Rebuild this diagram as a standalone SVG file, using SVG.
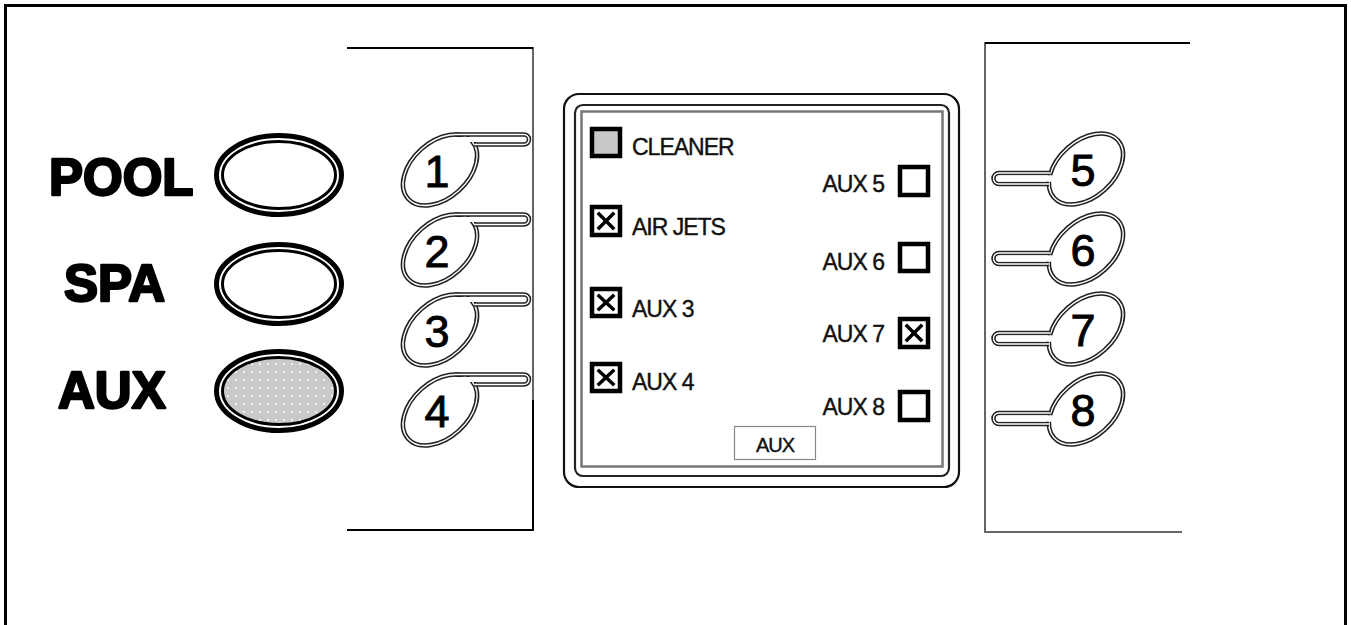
<svg xmlns="http://www.w3.org/2000/svg" width="1351" height="625" viewBox="0 0 1351 625">
<style>
.big{font-family:"Liberation Sans",Arial,sans-serif;font-weight:bold;font-size:51px;fill:#000;stroke:#000;stroke-width:2.4;stroke-linejoin:round}
.num{font-family:"Liberation Sans",Arial,sans-serif;font-size:45px;fill:#000;stroke:#000;stroke-width:0.9;text-anchor:middle}
.lbl{font-family:"Liberation Sans",Arial,sans-serif;font-size:23px;letter-spacing:-1px;fill:#111;stroke:#111;stroke-width:0.4}
.r{text-anchor:end}
.btnO{fill:none;stroke:#000;stroke-width:5}
.btnI{fill:none;stroke:#000;stroke-width:3}
.bo{fill:none;stroke:#222;stroke-width:4.5}
.bi{fill:none;stroke:#fff;stroke-width:1.4}
.bfill{fill:#fff;stroke:none}
.box{fill:#fff;stroke:#000;stroke-width:4.5}
.x{stroke:#000;stroke-width:3.5;stroke-linecap:square}
.brk{fill:none;stroke:#666;stroke-width:2}
</style>
<defs>
<pattern id="dots" width="8" height="8" patternUnits="userSpaceOnUse">
<rect width="8" height="8" fill="#c9c9c9"/>
<circle cx="4" cy="4" r="1" fill="#fff"/>
</pattern>
<ellipse id="bell" rx="43" ry="28" transform="rotate(-42)"/>
</defs>

<path d="M5.5,625 V5.5 H1345.5 V625" fill="none" stroke="#000" stroke-width="3"/>

<g id="connectors">
<path class="brk" d="M347,48 H533 V530 H347"/>
<path d="M347,48 H533 M533,400 V530 H347" fill="none" stroke="#000" stroke-width="2"/>
<path class="brk" d="M1190,43 H985 V532 H1182"/>
<path d="M1190,43 H985" fill="none" stroke="#000" stroke-width="2"/>
</g>

<g id="pool">
<text class="big" x="49" y="195">POOL</text>
<ellipse class="btnO" cx="279" cy="175" rx="62.5" ry="39.5"/>
<ellipse class="btnI" cx="279" cy="175" rx="56.5" ry="33.5"/>
</g>
<g id="spa">
<text class="big" x="64" y="301">SPA</text>
<ellipse class="btnO" cx="279" cy="284" rx="62.5" ry="39.5"/>
<ellipse class="btnI" cx="279" cy="284" rx="56.5" ry="33.5"/>
</g>
<g id="aux">
<text class="big" x="58" y="408">AUX</text>
<ellipse cx="279" cy="391" rx="57" ry="34" fill="url(#dots)"/>
<ellipse class="btnO" cx="279" cy="391" rx="62.5" ry="39.5"/>
<ellipse class="btnI" cx="279" cy="391" rx="56.5" ry="33.5"/>
</g>

<g id="b1" transform="translate(440,170)">
<use href="#bell" class="bfill"/><use href="#bell" class="bo"/><use href="#bell" class="bi"/>
<path class="bo" d="M14.9,-35.5 H84 A5,5 0 0 1 84,-25.5 H34.3"/>
<path class="bi" d="M14.9,-35.5 H84 A5,5 0 0 1 84,-25.5 H34.3"/>
<rect class="bfill" x="15" y="-33" width="70" height="5"/>
<text class="num" x="-3" y="17">1</text>
</g>
<g id="b2" transform="translate(440,250)">
<use href="#bell" class="bfill"/><use href="#bell" class="bo"/><use href="#bell" class="bi"/>
<path class="bo" d="M14.9,-35.5 H84 A5,5 0 0 1 84,-25.5 H34.3"/>
<path class="bi" d="M14.9,-35.5 H84 A5,5 0 0 1 84,-25.5 H34.3"/>
<rect class="bfill" x="15" y="-33" width="70" height="5"/>
<text class="num" x="-3" y="17">2</text>
</g>
<g id="b3" transform="translate(440,330)">
<use href="#bell" class="bfill"/><use href="#bell" class="bo"/><use href="#bell" class="bi"/>
<path class="bo" d="M14.9,-35.5 H84 A5,5 0 0 1 84,-25.5 H34.3"/>
<path class="bi" d="M14.9,-35.5 H84 A5,5 0 0 1 84,-25.5 H34.3"/>
<rect class="bfill" x="15" y="-33" width="70" height="5"/>
<text class="num" x="-3" y="17">3</text>
</g>
<g id="b4" transform="translate(440,410)">
<use href="#bell" class="bfill"/><use href="#bell" class="bo"/><use href="#bell" class="bi"/>
<path class="bo" d="M14.9,-35.5 H84 A5,5 0 0 1 84,-25.5 H34.3"/>
<path class="bi" d="M14.9,-35.5 H84 A5,5 0 0 1 84,-25.5 H34.3"/>
<rect class="bfill" x="15" y="-33" width="70" height="5"/>
<text class="num" x="-3" y="17">4</text>
</g>

<g id="b5" transform="translate(1086,169)">
<use href="#bell" class="bfill"/><use href="#bell" class="bo"/><use href="#bell" class="bi"/>
<path class="bo" d="M-35.3,4 H-87 A5.5,5.5 0 0 0 -87,15 H-37"/>
<path class="bi" d="M-35.3,4 H-87 A5.5,5.5 0 0 0 -87,15 H-37"/>
<rect class="bfill" x="-88" y="6.4" width="55" height="6.2"/>
<text class="num" x="-3" y="17">5</text>
</g>
<g id="b6" transform="translate(1086,249)">
<use href="#bell" class="bfill"/><use href="#bell" class="bo"/><use href="#bell" class="bi"/>
<path class="bo" d="M-35.3,4 H-87 A5.5,5.5 0 0 0 -87,15 H-37"/>
<path class="bi" d="M-35.3,4 H-87 A5.5,5.5 0 0 0 -87,15 H-37"/>
<rect class="bfill" x="-88" y="6.4" width="55" height="6.2"/>
<text class="num" x="-3" y="17">6</text>
</g>
<g id="b7" transform="translate(1086,329)">
<use href="#bell" class="bfill"/><use href="#bell" class="bo"/><use href="#bell" class="bi"/>
<path class="bo" d="M-35.3,4 H-87 A5.5,5.5 0 0 0 -87,15 H-37"/>
<path class="bi" d="M-35.3,4 H-87 A5.5,5.5 0 0 0 -87,15 H-37"/>
<rect class="bfill" x="-88" y="6.4" width="55" height="6.2"/>
<text class="num" x="-3" y="17">7</text>
</g>
<g id="b8" transform="translate(1086,409)">
<use href="#bell" class="bfill"/><use href="#bell" class="bo"/><use href="#bell" class="bi"/>
<path class="bo" d="M-35.3,4 H-87 A5.5,5.5 0 0 0 -87,15 H-37"/>
<path class="bi" d="M-35.3,4 H-87 A5.5,5.5 0 0 0 -87,15 H-37"/>
<rect class="bfill" x="-88" y="6.4" width="55" height="6.2"/>
<text class="num" x="-3" y="17">8</text>
</g>

<g id="panel">
<rect x="564" y="94" width="395" height="393" rx="15" fill="#fff" stroke="#111" stroke-width="2.2"/>
<rect x="575" y="105" width="374" height="371" rx="8" fill="none" stroke="#222" stroke-width="2.2"/>
<rect x="581.5" y="111.5" width="361" height="355" fill="none" stroke="#777" stroke-width="2.5"/>
</g>

<g id="cleaner">
<rect class="box" x="592" y="129" width="28" height="27" style="fill:#c8c8c8"/>
<text class="lbl" x="632" y="155">CLEANER</text>
</g>
<g id="airjets">
<rect class="box" x="592" y="207" width="28" height="28"/>
<path class="x" d="M599,214 L613,228 M613,214 L599,228"/>
<text class="lbl" x="632" y="235">AIR JETS</text>
</g>
<g id="aux3">
<rect class="box" x="592" y="289" width="28" height="27"/>
<path class="x" d="M599,296 L613,309 M613,296 L599,309"/>
<text class="lbl" x="632" y="317">AUX 3</text>
</g>
<g id="aux4">
<rect class="box" x="592" y="364" width="28" height="27"/>
<path class="x" d="M599,371 L613,384 M613,371 L599,384"/>
<text class="lbl" x="632" y="390">AUX 4</text>
</g>
<g id="aux5">
<rect class="box" x="900" y="167" width="28" height="28"/>
<text class="lbl r" x="884" y="192">AUX 5</text>
</g>
<g id="aux6">
<rect class="box" x="900" y="244" width="28" height="27"/>
<text class="lbl r" x="884" y="270">AUX 6</text>
</g>
<g id="aux7">
<rect class="box" x="900" y="319" width="28" height="28"/>
<path class="x" d="M907,326 L921,340 M921,326 L907,340"/>
<text class="lbl r" x="884" y="342">AUX 7</text>
</g>
<g id="aux8">
<rect class="box" x="900" y="392" width="28" height="28"/>
<text class="lbl r" x="884" y="415">AUX 8</text>
</g>
<g id="auxbtn">
<rect x="734.5" y="426.5" width="81" height="33" fill="#fff" stroke="#888" stroke-width="1.2"/>
<text x="775" y="452" text-anchor="middle" style="font-family:'Liberation Sans',Arial,sans-serif;font-size:20px;letter-spacing:-1px;fill:#111;stroke:#111;stroke-width:0.4">AUX</text>
</g>
</svg>
